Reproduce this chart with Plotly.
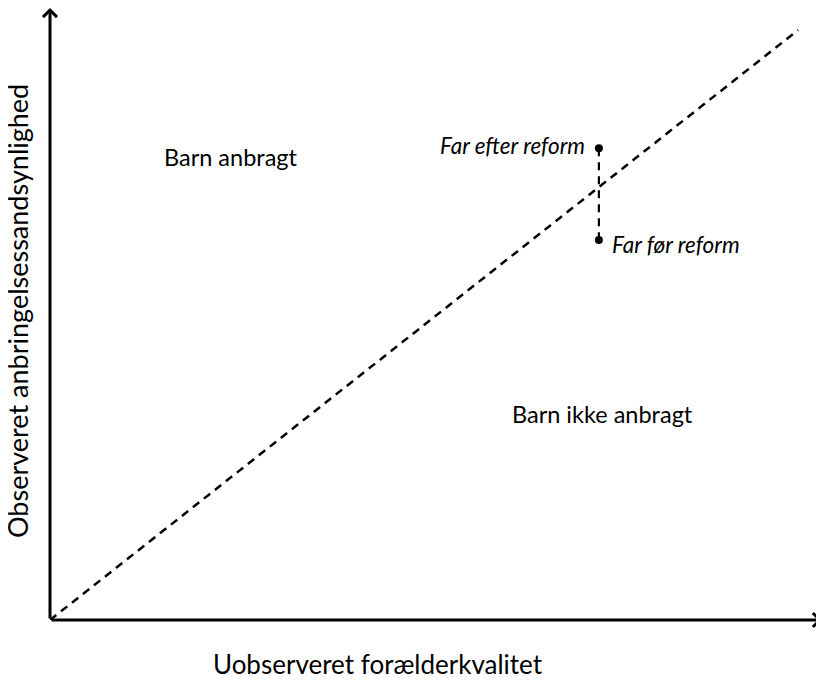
import plotly.graph_objects as go

# Conceptual chart data (normalized 0..1 units)
diag_x = [0.0, 0.969]
diag_y = [0.0, 0.964]
father_x = [0.711, 0.711]
father_y = [0.771, 0.621]  # after reform, before reform
father_labels = ["Far efter reform", "Far før reform"]
region_labels = ["Barn anbragt", "Barn ikke anbragt"]
region_x = [0.2345, 0.716]
region_y = [0.7565, 0.3366]
x_title = "Uobserveret forælderkvalitet"
y_title = "Observeret anbringelsessandsynlighed"

FONT = "Lato, Open Sans, sans-serif"

# page has an 8px body margin -> figure is placed at (8, 8) in the window
OFF = 8
W, H = 824 - OFF, 681 - OFF
L, R = 50 - OFF, 2
T = 8 - OFF
B = H - (620 - OFF)
pw, ph = W - L - R, H - T - B


def px_to_paper(sx, sy):
    return ((sx - OFF - L) / pw, (H - B - (sy - OFF)) / ph)


fig = go.Figure()
fig.add_trace(go.Scatter(x=diag_x, y=diag_y, mode="lines",
                         line=dict(color="black", width=2.5, dash="8px,6px"),
                         hoverinfo="skip", showlegend=False, cliponaxis=False))
fig.add_trace(go.Scatter(x=father_x, y=father_y, mode="lines+markers",
                         line=dict(color="black", width=2.2, dash="8px,6px"),
                         marker=dict(size=8, color="black"),
                         hoverinfo="skip", showlegend=False, cliponaxis=False))

annotations = []
# axes with arrows
annotations.append(dict(x=1.0, y=0.0, ax=0.0, ay=0.0, xref="x", yref="y", axref="x", ayref="y",
                        text="", showarrow=True, arrowhead=4, arrowwidth=3, arrowsize=0.9,
                        arrowcolor="black", standoff=0, startstandoff=0))
annotations.append(dict(x=0.0, y=1.0, ax=0.0, ay=0.0, xref="x", yref="y", axref="x", ayref="y",
                        text="", showarrow=True, arrowhead=4, arrowwidth=3, arrowsize=0.9,
                        arrowcolor="black", standoff=0, startstandoff=0))
# region labels
for t, x, y in zip(region_labels, region_x, region_y):
    annotations.append(dict(x=x, y=y, xref="x", yref="y", text=t, showarrow=False,
                            font=dict(family=FONT, size=23.5, color="black"),
                            xanchor="center", yanchor="middle"))
# father labels
annotations.append(dict(x=father_x[0] - 0.016, y=father_y[0] + 0.005, xref="x", yref="y",
                        text="<i>" + father_labels[0] + "</i>", showarrow=False,
                        font=dict(family=FONT, size=22.5, color="black"),
                        xanchor="right", yanchor="middle"))
annotations.append(dict(x=father_x[1] + 0.014, y=father_y[1] - 0.007, xref="x", yref="y",
                        text="<i>" + father_labels[1] + "</i>", showarrow=False,
                        font=dict(family=FONT, size=22.5, color="black"),
                        xanchor="left", yanchor="middle"))
# axis titles
xt = px_to_paper(378, 664)
annotations.append(dict(x=xt[0], y=xt[1], xref="paper", yref="paper", text=x_title, showarrow=False,
                        font=dict(family=FONT, size=26, color="black"),
                        xanchor="center", yanchor="middle"))
yt = px_to_paper(17, 311)
annotations.append(dict(x=yt[0], y=yt[1], xref="paper", yref="paper", text=y_title, showarrow=False,
                        textangle=-90, font=dict(family=FONT, size=27, color="black"),
                        xanchor="center", yanchor="middle"))

fig.update_layout(
    width=W, height=H,
    margin=dict(l=L, r=R, t=T, b=B),
    paper_bgcolor="white", plot_bgcolor="white",
    xaxis=dict(range=[0, 1], visible=False, fixedrange=True),
    yaxis=dict(range=[0, 1], visible=False, fixedrange=True),
    annotations=annotations,
    showlegend=False,
)

fig.write_html("out.html")
